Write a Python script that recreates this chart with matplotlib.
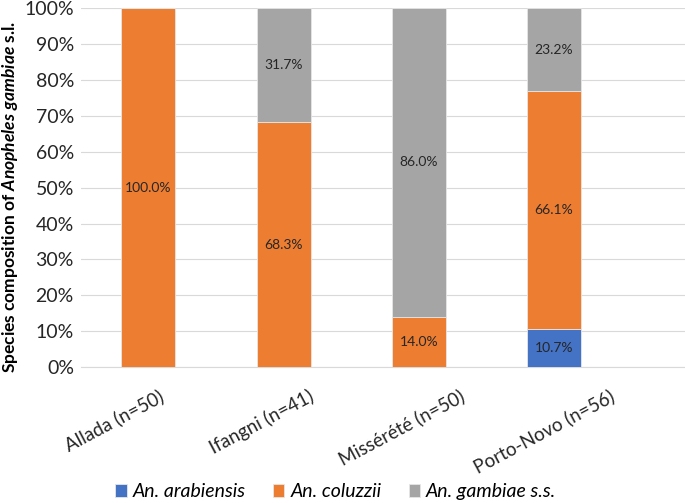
import matplotlib
matplotlib.use("Agg")
import matplotlib.pyplot as plt
import matplotlib.transforms as mtransforms
import numpy as np
import matplotlib.ticker as mticker

plt.rcParams['font.family'] = ['Lato', 'DejaVu Sans']
plt.rcParams['mathtext.fontset'] = 'custom'
plt.rcParams['mathtext.it'] = 'Lato:bold:italic'
plt.rcParams['mathtext.rm'] = 'Lato:bold'

sites = ['Allada (n=50)', 'Ifangni (n=41)', 'Missérété (n=50)', 'Porto-Novo (n=56)']
species = ['An. arabiensis', 'An. coluzzii', 'An. gambiae s.s.']
arabiensis = [0.0, 0.0, 0.0, 10.7]
coluzzii = [100.0, 68.3, 14.0, 66.1]
gambiae = [0.0, 31.7, 86.0, 23.2]
colors = ['#4472C4', '#ED7D31', '#A5A5A5']

fig, ax = plt.subplots(figsize=(6.85, 5.03), dpi=100)
fig.subplots_adjust(left=0.118, right=1.0, top=0.984, bottom=0.27)

x = np.arange(len(sites))
bottom = np.zeros(len(sites))
for vals, col, name in zip([arabiensis, coluzzii, gambiae], colors, species):
    vals = np.array(vals)
    ax.bar(x, vals, width=0.4, bottom=bottom, color=col, edgecolor='#e6e6e6',
           linewidth=0.6, label=name, zorder=3)
    for xi, b, v in zip(x, bottom, vals):
        if v > 0:
            ax.text(xi, b + v / 2, '%.1f%%' % v, ha='center', va='center',
                    fontsize=10, color='#262626', zorder=4)
    bottom += vals

ax.set_ylim(0, 100)
ax.set_xlim(-0.5, 3.97)
ax.yaxis.set_major_locator(mticker.MultipleLocator(10))
ax.yaxis.set_major_formatter(mticker.FuncFormatter(lambda v, p: '%d%%' % v))
ax.grid(axis='y', color='#d9d9d9', linewidth=0.8, zorder=0)
ax.set_xticks(x)
ax.set_xticklabels(sites, rotation=28, ha='right', rotation_mode='anchor', fontsize=13.5, color='#262626')
ax.tick_params(axis='y', labelsize=14, labelcolor='#262626', length=0, pad=5)
ax.tick_params(axis='x', length=0, pad=14)
# labels drift right a little more for each category, as in the original
for i, lab in enumerate(ax.get_xticklabels()):
    off = mtransforms.ScaledTranslation((10 + 15 * i) / 100, 0, fig.dpi_scale_trans)
    lab.set_transform(lab.get_transform() + off)
for s in ['top', 'right', 'left']:
    ax.spines[s].set_visible(False)
ax.spines['bottom'].set_color('#d9d9d9')

ax.set_ylabel('Species composition of $Anopheles\\ gambiae$ s.l.', fontsize=12.5,
              fontweight='bold')
ax.yaxis.set_label_coords(-0.1, 0.475)

fig.legend(*ax.get_legend_handles_labels(), loc='center', bbox_to_anchor=(0.49, 0.022),
           ncol=3, frameon=False, prop={'style': 'italic', 'size': 14},
           handlelength=0.6, handleheight=0.6, columnspacing=1.4, handletextpad=0.3)

plt.savefig('out.png', dpi=100)
